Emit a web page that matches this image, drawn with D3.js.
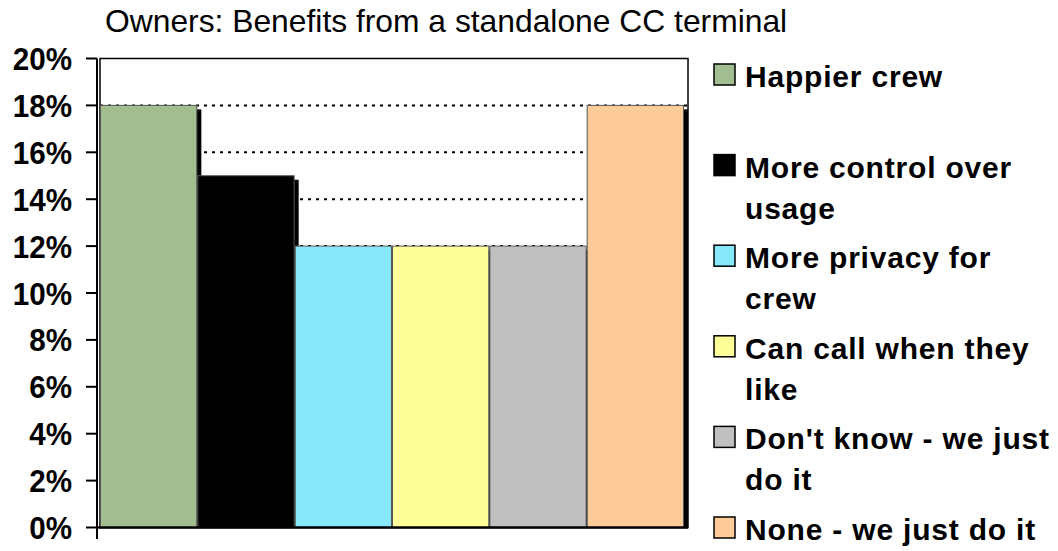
<!DOCTYPE html>
<html>
<head>
<meta charset="utf-8">
<script src="https://cdn.jsdelivr.net/npm/d3@7"></script>
<style>
  body { margin: 0; background: #fff; }
  svg text { font-family: "Liberation Sans", Arial, sans-serif; }
</style>
</head>
<body>
<div id="chart"></div>
<script>
var categories = ['Happier crew', 'More control over usage', 'More privacy for crew',
  'Can call when they like', "Don't know - we just do it", 'None - we just do it'];
var values = [18, 15, 12, 12, 12, 18];
var legendLines = [['Happier crew'], ['More control over', 'usage'], ['More privacy for', 'crew'],
  ['Can call when they', 'like'], ["Don't know - we just", 'do it'], ['None - we just do it']];
var colors = ['#a2bd8f', '#000000', '#87e8fa', '#ffff99', '#c0c0c0', '#ffcc99'];
var yTicks = [0, 2, 4, 6, 8, 10, 12, 14, 16, 18, 20];

var W = 1058, H = 551;
var plot = {left: 100, right: 688, top: 58.5, bottom: 527.5};

var svg = d3.select('#chart').append('svg')
  .attr('width', W).attr('height', H);

svg.append('text')
  .text('Owners: Benefits from a standalone CC terminal')
  .attr('x', 105).attr('y', 32)
  .style('font-size', '31.8px')
  .attr('fill', '#000');

// bars fill 100..684, the border goes on to 688 so the last shadow shows
var x = d3.scaleBand().domain(categories).range([plot.left, 684]).padding(0);
var y = d3.scaleLinear().domain([0, 20]).range([plot.bottom, plot.top]);

// dotted gridlines (bars cover them)
svg.append('g').selectAll('line')
  .data(yTicks.filter(function(d) { return d > 0 && d < 20; }))
  .enter().append('line')
  .attr('x1', plot.left).attr('x2', plot.right)
  .attr('y1', function(d) { return y(d); })
  .attr('y2', function(d) { return y(d); })
  .attr('stroke', '#000').attr('stroke-width', 2)
  .attr('stroke-dasharray', '3,5');

// plot border
svg.append('rect')
  .attr('x', plot.left).attr('y', plot.top)
  .attr('width', plot.right - plot.left).attr('height', plot.bottom - plot.top)
  .attr('fill', 'none').attr('stroke', '#000').attr('stroke-width', 1.5);

// bars with drop shadows, drawn in order so each bar hides the previous shadow
var bars = svg.append('g');
categories.forEach(function(c, i) {
  bars.append('rect')
    .attr('x', x(c) + 4).attr('y', y(values[i]) + 4)
    .attr('width', x.bandwidth()).attr('height', plot.bottom - y(values[i]) - 4)
    .attr('fill', '#000');
  bars.append('rect')
    .attr('x', x(c) + 0.5).attr('y', y(values[i]))
    .attr('width', x.bandwidth() - 1).attr('height', plot.bottom - y(values[i]))
    .attr('fill', colors[i])
    .attr('stroke', '#555').attr('stroke-width', 1);
});

// y axis
var yAxis = svg.append('g').attr('transform', 'translate(97,0)');
yAxis.append('line')
  .attr('x1', 0).attr('x2', 0).attr('y1', plot.top).attr('y2', 539)
  .attr('stroke', '#000').attr('stroke-width', 2);
yAxis.selectAll('.tick')
  .data(yTicks).enter().append('line')
  .attr('x1', -11).attr('x2', 0)
  .attr('y1', function(d) { return y(d); }).attr('y2', function(d) { return y(d); })
  .attr('stroke', '#000').attr('stroke-width', 2);
yAxis.selectAll('.lab')
  .data(yTicks).enter().append('text')
  .text(function(d) { return d + '%'; })
  .attr('text-anchor', 'end')
  .attr('transform', function(d) { return 'translate(-25,' + (y(d) + 11.5) + ') scale(0.94,1)'; })
  .style('font-size', '31.5px').style('font-weight', 'bold');

// x axis line
svg.append('line')
  .attr('x1', 97).attr('x2', plot.right)
  .attr('y1', plot.bottom).attr('y2', plot.bottom)
  .attr('stroke', '#000').attr('stroke-width', 2.5);

// legend
var leg = svg.append('g');
legendLines.forEach(function(lines, i) {
  var base = 87 + i * 90.6;
  leg.append('rect')
    .attr('x', 714).attr('y', base - 23)
    .attr('width', 21).attr('height', 21)
    .attr('fill', colors[i]).attr('stroke', '#000').attr('stroke-width', 1.5);
  lines.forEach(function(t, j) {
    leg.append('text')
      .text(t)
      .attr('x', 745).attr('y', base + j * 41)
      .style('font-size', '30px').style('font-weight', 'bold')
      .style('letter-spacing', '0.8px');
  });
});
</script>
</body>
</html>
